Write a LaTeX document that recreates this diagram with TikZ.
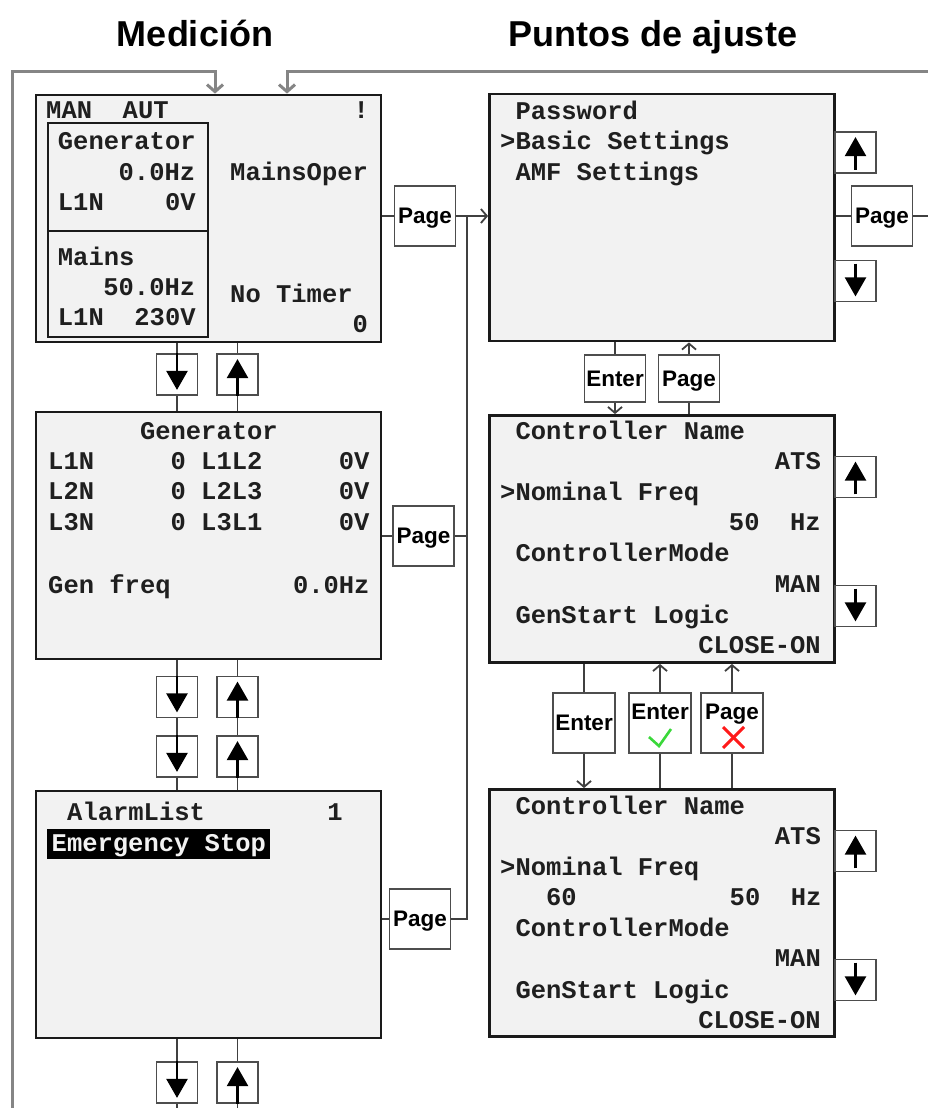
\documentclass[tikz,border=0pt]{standalone}
\usepackage{fontspec}
\setmainfont{Liberation Sans}
\newfontfamily\lcdfont{Liberation Mono}
\usetikzlibrary{arrows.meta,positioning}
\definecolor{Frame}{HTML}{1A1A1A}
\definecolor{Screen}{HTML}{F2F2F2}
\definecolor{Wire}{HTML}{404040}
\definecolor{Loop}{HTML}{858585}
\definecolor{Key}{HTML}{4D4D4D}
\definecolor{LcdText}{HTML}{1F1F1F}
\definecolor{OkGreen}{HTML}{3AD83A}
\definecolor{NoRed}{HTML}{FF1A1A}

\begin{document}
\begin{tikzpicture}[
  x=1pt,y=-1pt,
  screen/.style={draw=Frame,line width=2.8pt,fill=Screen,minimum width=345pt,minimum height=247pt,inner sep=0pt},
  pane/.style={draw=Frame,line width=2pt},
  lcd/.style={font=\lcdfont\bfseries\fontsize{25.5}{30}\selectfont,inner sep=0pt,text height=14.5pt,text depth=0pt,text=LcdText},
  lcdl/.style={lcd,anchor=west},
  lcdr/.style={lcd,anchor=east},
  key/.style={draw=Key,line width=1.8pt,fill=white,inner sep=0pt,minimum width=61pt,minimum height=60pt,font=\bfseries\fontsize{22.5}{24}\selectfont,text height=15.8pt,text depth=0pt},
  keyhi/.style={key,text depth=22.6pt},
  arrowkey/.style={key,minimum width=41pt,minimum height=41pt},
  wire/.style={draw=Wire,line width=1.8pt},
  arrow/.style={wire,-{Straight Barb[length=6pt,width=14pt]}},
  loop/.style={draw=Loop,line width=3pt,-{Straight Barb[length=7pt,width=16pt]}},
  tri/.style={draw=black,line width=2.4pt,-{Triangle[length=19pt,width=21pt]}},
  heading/.style={font=\bfseries\fontsize{36}{40}\selectfont,inner sep=0pt,text height=26pt,text depth=0pt}
]
\clip (0,0) rectangle (928,1108);

% headings
\node[heading] (meas) at (195,34) {Medición};
\node[heading] (sets) at (653,34) {Puntos de ajuste};

% screens
\node[screen] (main) at (208.5,218.5) {};
\node[screen] (gen) at (208.5,535.5) {};
\node[screen] (alarm) at (208.5,914.5) {};
\node[screen] (pass) at (662,217.5) {};
\node[screen] (setA) at (662,539) {};
\node[screen] (setB) at (662,913) {};

% main screen
\draw[pane] (48,123) rectangle (208,231);
\draw[pane] (48,231) rectangle (208,337);
\node[lcdl] (mMode) at (46,111) {MAN~~AUT};
\node[lcdr] (mFlag) at (369,111) {!};
\node[lcdl] (mGen) at (57.7,142) {Generator};
\node[lcdr] (mGenF) at (195.4,173) {0.0Hz};
\node[lcdl] (mGenV) at (57.7,203) {L1N~~~~0V};
\node[lcdl] (mMains) at (57.7,258) {Mains};
\node[lcdr] (mMainsF) at (195.4,288) {50.0Hz};
\node[lcdl] (mMainsV) at (57.7,318) {L1N~~230V};
\node[lcdl] (mOper) at (230,173) {MainsOper};
\node[lcdl] (mTimer) at (230,295) {No~Timer};
\node[lcdr] (mCount) at (368,325) {0};

% generator screen
\node[lcdl] (gTitle) at (139.8,432) {Generator};
\node[lcdl] (gRow1) at (48,462) {L1N~~~~~0~L1L2~~~~~0V};
\node[lcdl] (gRow2) at (48,492) {L2N~~~~~0~L2L3~~~~~0V};
\node[lcdl] (gRow3) at (48,523) {L3N~~~~~0~L3L1~~~~~0V};
\node[lcdl] (gFreq) at (48,586) {Gen~freq~~~~~~~~0.0Hz};

% alarm screen
\node[lcdl] (aTitle) at (67,813) {AlarmList};
\node[lcd] (aCount) at (335,813) {1};
\node[lcdl,fill=black,text=Screen,inner xsep=4.5pt,inner ysep=8pt] (aItem) at (47,844) {Emergency~Stop};

% password screen
\node[lcdl] (pRow1) at (500,112) {~Password};
\node[lcdl] (pRow2) at (500,142) {>Basic~Settings};
\node[lcdl] (pRow3) at (500,173) {~AMF~Settings};

% basic settings screen
\node[lcdl] (aRow1) at (500,432) {~Controller~Name};
\node[lcdr] (aRow2) at (821,462) {ATS};
\node[lcdl] (aRow3) at (500,493) {>Nominal~Freq};
\node[lcdr] (aRow4) at (821,523) {50~~Hz};
\node[lcdl] (aRow5) at (500,554) {~ControllerMode};
\node[lcdr] (aRow6) at (821,585) {MAN};
\node[lcdl] (aRow7) at (500,616) {~GenStart~Logic};
\node[lcdr] (aRow8) at (821,646) {CLOSE-ON};

% editing screen
\node[lcdl] (bRow1) at (500,807) {~Controller~Name};
\node[lcdr] (bRow2) at (821,837) {ATS};
\node[lcdl] (bRow3) at (500,868) {>Nominal~Freq};
\node[lcdl] (bRow4) at (500,898) {~~~60~~~~~~~~~~50~~Hz};
\node[lcdl] (bRow5) at (500,929) {~ControllerMode};
\node[lcdr] (bRow6) at (821,959) {MAN};
\node[lcdl] (bRow7) at (500,991) {~GenStart~Logic};
\node[lcdr] (bRow8) at (821,1021) {CLOSE-ON};

% keys
\node[key] (pgMain) at (425,216) {Page};
\node[key] (pgGen) at (423.5,536) {Page};
\node[key] (pgAlarm) at (420,919) {Page};
\node[key] (pgPass) at (882,216) {Page};
\node[key,minimum height=47pt] (enterA) at (615,378.5) {Enter};
\node[key,minimum height=47pt] (pageA) at (689,378.5) {Page};
\node[key,minimum width=62pt] (enterB) at (584,723) {Enter};
\node[keyhi,minimum width=62pt] (enterOk) at (660,723) {Enter};
\node[keyhi,minimum width=62pt] (pageNo) at (732,723) {Page};

\node[arrowkey] (upPass) at (855.5,152.5) {};
\node[arrowkey] (dnPass) at (855.5,281) {};
\node[arrowkey] (upSetA) at (855.5,477) {};
\node[arrowkey] (dnSetA) at (855.5,606) {};
\node[arrowkey] (upSetB) at (855.5,851) {};
\node[arrowkey] (dnSetB) at (855.5,980) {};

\node[arrowkey] (dnA) at (177,374.5) {};
\node[arrowkey] (upA) at (237.5,374.5) {};
\node[arrowkey] (dnB) at (177,697) {};
\node[arrowkey] (upB) at (237.5,697) {};
\node[arrowkey] (dnC) at (177,756.5) {};
\node[arrowkey] (upC) at (237.5,756.5) {};
\node[arrowkey] (dnD) at (177,1082.5) {};
\node[arrowkey] (upD) at (237.5,1082.5) {};

% ok / cancel marks
\draw[OkGreen,line width=2.6pt] ([shift={(-11,14)}]enterOk.center) -- ++(10,9) -- ++(12,-17);
\draw[NoRed,line width=3pt] ([shift={(-9,4)}]pageNo.center) -- ++(21,21);
\draw[NoRed,line width=3pt] ([shift={(12,4)}]pageNo.center) -- ++(-21,21);

% page chain
\coordinate (bus) at (467,216);
\coordinate (rim) at (940,216);
\draw[wire] (main.east |- pgMain) -- (pgMain.west);
\draw[arrow] (pgMain.east) -- (pass.west |- pgMain);
\draw[wire] (gen.east |- pgGen) -- (pgGen.west);
\draw[wire] (pgGen.east) -- (pgGen -| bus);
\draw[wire] (alarm.east |- pgAlarm) -- (pgAlarm.west);
\draw[wire] (pgAlarm.east) -| (bus);
\draw[wire] (pass.east |- pgPass) -- (pgPass.west);
\draw[wire] (pgPass.east) -- (rim);

% loops back to the main screen
\coordinate (loopIn) at (215,72);
\coordinate (loopBack) at (287,72);
\coordinate (rimTop) at (940,72);
\coordinate (rimLow) at (12,1120);
\draw[loop] (rimLow) |- (loopIn) -- (main.north -| loopIn);
\draw[loop] (rimTop) -- (loopBack) -- (main.north -| loopBack);

% measuring screens up / down
\draw[wire] (main.south -| dnA) -- (dnA.north);
\draw[wire] (dnA.south) -- (gen.north -| dnA);
\draw[wire] (gen.north -| upA) -- (upA.south);
\draw[wire] (upA.north) -- (main.south -| upA);
\draw[wire] (gen.south -| dnB) -- (dnB.north);
\draw[wire] (dnB.south) -- (dnC.north);
\draw[wire] (dnC.south) -- (alarm.north -| dnC);
\draw[wire] (alarm.north -| upC) -- (upC.south);
\draw[wire] (upC.north) -- (upB.south);
\draw[wire] (upB.north) -- (gen.south -| upB);
\draw[wire] (alarm.south -| dnD) -- (dnD.north);
\draw[wire] (dnD.south) -- ++(0,20);
\draw[wire] (upD.south) -- ++(0,20);
\draw[wire] (upD.north) -- (alarm.south -| upD);

\foreach \k in {dnA,dnB,dnC,dnD}
  \draw[tri] (\k.north) -- ([yshift=6pt]\k.south);
\foreach \k in {upA,upB,upC,upD}
  \draw[tri] (\k.south) -- ([yshift=-6pt]\k.north);
\foreach \k in {upPass,upSetA,upSetB}
  \draw[tri] ([yshift=4pt]\k.south) -- ([yshift=-6pt]\k.north);
\foreach \k in {dnPass,dnSetA,dnSetB}
  \draw[tri] ([yshift=-4pt]\k.north) -- ([yshift=6pt]\k.south);

% setting screens enter / page
\draw[wire] (pass.south -| enterA) -- (enterA.north);
\draw[arrow] (enterA.south) -- (setA.north -| enterA);
\draw[wire] (setA.north -| pageA) -- (pageA.south);
\draw[arrow] (pageA.north) -- (pass.south -| pageA);
\draw[wire] (setA.south -| enterB) -- (enterB.north);
\draw[arrow] (enterB.south) -- (setB.north -| enterB);
\draw[wire] (setB.north -| enterOk) -- (enterOk.south);
\draw[arrow] (enterOk.north) -- (setA.south -| enterOk);
\draw[wire] (setB.north -| pageNo) -- (pageNo.south);
\draw[arrow] (pageNo.north) -- (setA.south -| pageNo);
\end{tikzpicture}
\end{document}
